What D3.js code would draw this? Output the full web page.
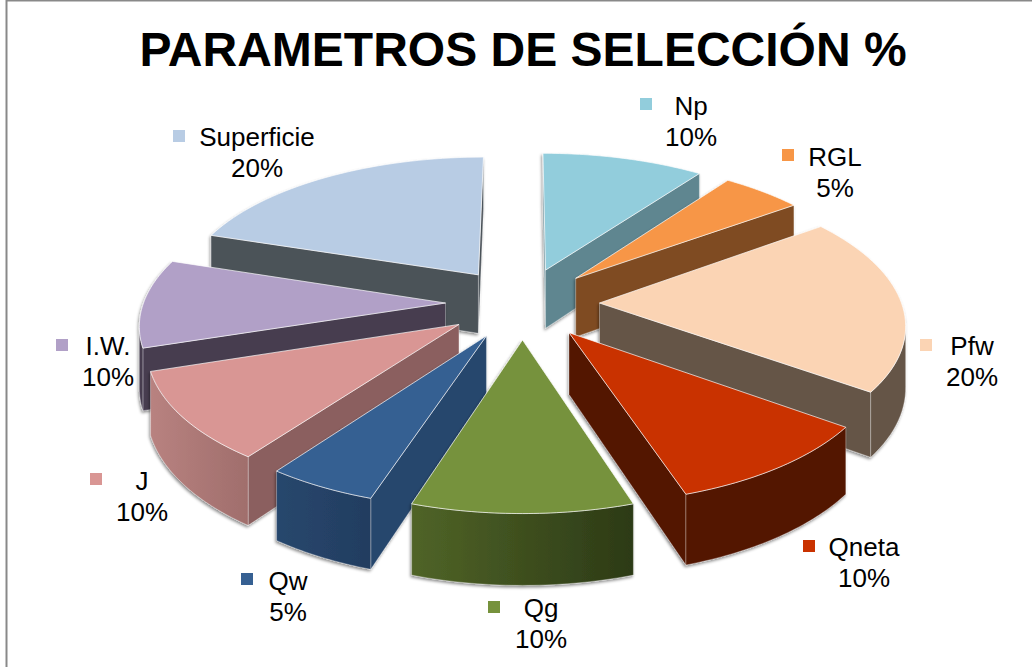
<!DOCTYPE html>
<html>
<head>
<meta charset="utf-8">
<script src="https://cdn.jsdelivr.net/npm/d3@7"></script>
<style>
  html, body { margin: 0; padding: 0; background: #fff; }
  svg { display: block; }
  text { font-family: "Liberation Sans", Arial, sans-serif; fill: #000; }
</style>
</head>
<body>
<svg id="chart" width="1032" height="667"></svg>
<script>
// data
const titleText = "PARAMETROS DE SELECCIÓN %";
const categories = ["Np", "RGL", "Pfw", "Qneta", "Qg", "Qw", "J", "I.W.", "Superficie"];
const percents = [10, 5, 20, 10, 10, 5, 10, 10, 20];

// colours, same order as categories
const topColors = ["#92cddc", "#f79646", "#fbd4b4", "#c93200", "#76923c", "#366092", "#d99694", "#b1a0c7", "#b8cce4"];
const wallColors = ["#5f8690", "#7f4c22", "#655547", "#521400", "#4d5f27", "#28476d", "#8b5f5e", "#463c50", "#4b5259"];
const rimStart = ["#5f8690", "#7f4c22", "#655547", "#521400", "#506427", "#28476d", "#b88280", "#463c50", "#4b5259"];
const rimEnd = ["#5f8690", "#7f4c22", "#655547", "#521400", "#2c3a16", "#223d60", "#a06e6c", "#463c50", "#4b5259"];

// legend spots: swatch centre x/y, text centre x, first baseline
const labelSpots = [
  [646, 104, 691, 115], [788, 155, 835, 166], [926, 345, 972, 355],
  [809, 546, 864, 556], [494, 607, 541, 617], [247, 579, 288, 590],
  [96, 479, 142, 490], [62, 345, 108, 355], [179, 136, 257, 146]
];

// geometry of the fake 3d pie
const cx = 522.5, cy = 303;
const radius = 302, explode = 77, depth = 60;
const tilt = 0.464, viewDist = 2300;

var svg = d3.select("#chart");
var defs = svg.append("defs");

var shadow = defs.append("filter").attr("id", "soft")
  .attr("x", "-10%").attr("y", "-10%").attr("width", "120%").attr("height", "120%");
shadow.append("feDropShadow")
  .attr("dx", -1).attr("dy", 2).attr("stdDeviation", 1.6)
  .attr("flood-color", "#000").attr("flood-opacity", 0.45);

// frame, only top and left show in the crop
svg.append("path").attr("d", "M6.5,667V0.5H1032").attr("fill", "none")
  .attr("stroke", "#898989").attr("stroke-width", 2);

svg.append("text").attr("x", 523).attr("y", 66)
  .attr("text-anchor", "middle").attr("font-size", 48).attr("font-weight", "bold")
  .text(titleText);

// angle 0 is up, clockwise. fy > 0 is toward the viewer
function project(wx, fy, lift) {
  var s = 1 / (1 - fy / viewDist);
  return [cx + wx * s, cy + fy * tilt * s + lift * s];
}

function slicePoint(d, r, a, lift) {
  var mid = (d.startAngle + d.endAngle) / 2;
  var wx = explode * Math.sin(mid) + r * Math.sin(a);
  var fy = -explode * Math.cos(mid) - r * Math.cos(a);
  return project(wx, fy, lift);
}

function arcAngles(d) {
  return d3.range(0, 41).map(i => d.startAngle + (d.endAngle - d.startAngle) * i / 40);
}

var pie = d3.pie().sort(null).value(d => d)
  .startAngle(0).endAngle(2 * Math.PI);
var line = d3.line();

var slices = pie(percents).map((d, i) => Object.assign(d, { i: i }));

// which is closer to the viewer goes last
var drawOrder = slices.slice().sort((a, b) =>
  (-Math.cos((a.startAngle + a.endAngle) / 2)) - (-Math.cos((b.startAngle + b.endAngle) / 2)));

function signedArea(pts) {
  return d3.polygonArea(pts);
}

drawOrder.forEach(d => {
  var g = svg.append("g").attr("filter", "url(#soft)");
  var angles = arcAngles(d);

  var apexTop = slicePoint(d, 0, 0, 0);
  var apexBot = slicePoint(d, 0, 0, depth);
  var rimTop = angles.map(a => slicePoint(d, radius, a, 0));
  var rimBot = angles.map(a => slicePoint(d, radius, a, depth));

  var gradId = "rim" + d.i;
  var grad = defs.append("linearGradient").attr("id", gradId)
    .attr("gradientUnits", "userSpaceOnUse")
    .attr("x1", d3.min(rimTop, p => p[0])).attr("x2", d3.max(rimTop, p => p[0]))
    .attr("y1", 0).attr("y2", 0);
  grad.append("stop").attr("offset", 0).attr("stop-color", rimStart[d.i]);
  grad.append("stop").attr("offset", 1).attr("stop-color", rimEnd[d.i]);

  // walls facing away are skipped
  var startWall = [apexTop, rimTop[0], rimBot[0], apexBot];
  var endWall = [rimTop[40], apexTop, apexBot, rimBot[40]];
  [startWall, endWall].forEach(w => {
    if (signedArea(w) < 0) return;
    g.append("path").attr("d", line(w) + "Z")
      .attr("fill", wallColors[d.i])
      .attr("stroke", "#fff").attr("stroke-opacity", 0.5).attr("stroke-width", 0.6);
  });

  // outer rim, only the part below its top edge
  var segs = d3.range(0, 40).filter(k => rimTop[k + 1][0] < rimTop[k][0]);
  if (segs.length) {
    var first = d3.min(segs), last = d3.max(segs) + 1;
    var up = rimTop.slice(first, last + 1);
    var down = rimBot.slice(first, last + 1).reverse();
    g.append("path").attr("d", line(up.concat(down)) + "Z")
      .attr("fill", `url(#${gradId})`)
      .attr("stroke", "#fff").attr("stroke-opacity", 0.5).attr("stroke-width", 0.6);
  }

  g.append("path").attr("d", line([apexTop].concat(rimTop)) + "Z")
    .attr("fill", topColors[d.i])
    .attr("stroke", "#fff").attr("stroke-opacity", 0.75).attr("stroke-width", 0.9)
    .attr("stroke-linejoin", "round");
});

// legend labels inside the plot
categories.forEach((name, i) => {
  var spot = labelSpots[i];
  svg.append("rect")
    .attr("x", spot[0] - 6).attr("y", spot[1] - 6)
    .attr("width", 12).attr("height", 12)
    .attr("fill", topColors[i]);
  svg.append("text").attr("x", spot[2]).attr("y", spot[3])
    .attr("text-anchor", "middle").attr("font-size", 26)
    .text(name);
  svg.append("text").attr("x", spot[2]).attr("y", spot[3] + 31)
    .attr("text-anchor", "middle").attr("font-size", 26)
    .text(percents[i] + "%");
});
</script>
</body>
</html>
